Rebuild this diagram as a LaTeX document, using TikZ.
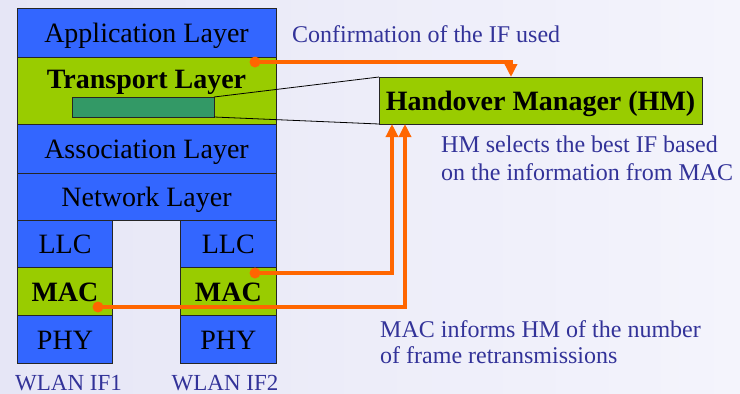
\documentclass[tikz,border=0pt]{standalone}
\usepackage{fontspec}
\setmainfont{Liberation Serif}
\usetikzlibrary{arrows.meta}
\definecolor{layerblue}{HTML}{3366FF}
\definecolor{layergreen}{HTML}{99CC00}
\definecolor{boxgreen}{HTML}{339966}
\definecolor{arrorange}{HTML}{FF6600}
\definecolor{txtblue}{HTML}{333399}
\definecolor{bgleft}{RGB}{230,230,246}
\definecolor{bgright}{RGB}{244,244,252}
\tikzset{
  layer/.style={draw=black!85, line width=0.8pt, inner sep=0pt, outer sep=0pt,
    font=\fontsize{28}{32}\selectfont, text=black, text height=20.5pt, text depth=0pt},
  bluelayer/.style={layer, fill=layerblue},
  greenlayer/.style={layer, fill=layergreen},
  note/.style={text=txtblue, font=\fontsize{24}{28}\selectfont, inner sep=0pt, anchor=base west},
  iflabel/.style={text=txtblue, font=\fontsize{23}{27}\selectfont, inner sep=0pt, anchor=base},
  sig/.style={draw=arrorange, line width=4pt, -{Triangle[width=12pt,length=13pt]}},
  dot/.style={fill=arrorange},
  thin/.style={draw=black, line width=0.8pt}
}
\begin{document}
\begin{tikzpicture}[x=1pt,y=-1pt]
\shade[left color=bgleft, right color=bgright] (0,0) rectangle (740,394);
\useasboundingbox (0,0) rectangle (740,394);
% stack
\node[bluelayer, minimum width=259pt, minimum height=49pt] (app) at (146.5,32.5) {Application Layer};
\node[greenlayer, minimum width=259pt, minimum height=67pt] (tl) at (146.5,90.5) {};
\node[font=\fontsize{28}{32}\selectfont\bfseries, inner sep=0pt, anchor=base] (tltext) at (146.5,88) {Transport Layer};
\node[draw=black!85, line width=0.8pt, fill=boxgreen, minimum width=142pt, minimum height=20pt, inner sep=0pt, outer sep=0pt] (tb) at (143,107) {};
\node[bluelayer, minimum width=259pt, minimum height=49pt] (assoc) at (146.5,148.5) {Association Layer};
\node[bluelayer, minimum width=259pt, minimum height=47pt] (net) at (146.5,196.5) {Network Layer};
\node[bluelayer, minimum width=95.5pt, minimum height=47pt] (llc1) at (65,243.5) {LLC};
\node[greenlayer, minimum width=95.5pt, minimum height=48pt, font=\fontsize{28}{32}\selectfont\bfseries] (mac1) at (65,291) {MAC};
\node[bluelayer, minimum width=95.5pt, minimum height=48pt] (phy1) at (65,339) {PHY};
\node[bluelayer, minimum width=95.5pt, minimum height=47pt] (llc2) at (228.3,243.5) {LLC};
\node[greenlayer, minimum width=95.5pt, minimum height=48pt, font=\fontsize{28}{32}\selectfont\bfseries] (mac2) at (228.3,291) {MAC};
\node[bluelayer, minimum width=95.5pt, minimum height=48pt] (phy2) at (228.3,339) {PHY};
\node[iflabel] (if1) at (68.5,390) {WLAN IF1};
\node[iflabel] (if2) at (225,390) {WLAN IF2};
% handover manager
\node[greenlayer, minimum width=323pt, minimum height=47pt, font=\fontsize{28}{32}\selectfont\bfseries] (hm) at (540.5,100.5) {Handover Manager (HM)};
\draw[thin] (tb.north east) -- (hm.north west);
\draw[thin] (tb.south east) -- (hm.south west);
% notes
\node[note] (n1) at (292,42) {Confirmation of the IF used};
\node[note] (n2) at (441,152) {HM selects the best IF based};
\node[note] (n3) at (441,180) {on the information from MAC};
\node[note] (n4) at (380,337) {MAC informs HM of the number};
\node[note] (n5) at (380,363) {of frame retransmissions};
% signal paths
\coordinate (d1) at (255,62);
\coordinate (d2) at (255,273);
\coordinate (d3) at (98,307);
\coordinate (h1) at (511,77);
\coordinate (h2) at (392,124);
\coordinate (h3) at (405,124);
\draw[sig] (d1) -| (h1);
\draw[sig] (d2) -| (h2);
\draw[sig] (d3) -| (h3);
\fill[dot] (d1) circle (5.5pt);
\fill[dot] (d2) circle (5.5pt);
\fill[dot] (d3) circle (5.5pt);
\end{tikzpicture}
\end{document}
